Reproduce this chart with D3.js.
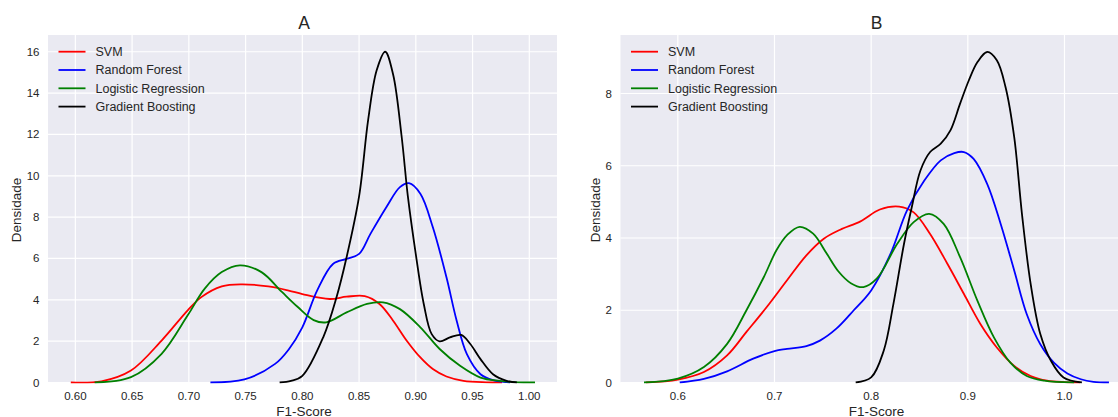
<!DOCTYPE html>
<html><head><meta charset="utf-8">
<script src="https://cdn.jsdelivr.net/npm/d3@7"></script>
<style>
body{margin:0;background:#fff;overflow:hidden}
text{font-family:"Liberation Sans",Arial,sans-serif;fill:#262626}
</style>
</head><body><svg id="c" width="1118" height="417"></svg>
<script>
// ---- data ----
const models = ["SVM", "Random Forest", "Logistic Regression", "Gradient Boosting"];
const colors = ["#ff0000", "#0000ff", "#008000", "#000000"];
const panelTitles = ["A", "B"];
const xTicksA = [0.60, 0.65, 0.70, 0.75, 0.80, 0.85, 0.90, 0.95, 1.00];
const yTicksA = [0, 2, 4, 6, 8, 10, 12, 14, 16];
const xTicksB = [0.6, 0.7, 0.8, 0.9, 1.0];
const yTicksB = [0, 2, 4, 6, 8];
const xLabel = "F1-Score";
const yLabel = "Densidade";

// Panel A densities [F1, density]
const svmA = [[0.596,0],[0.623,0.06],[0.649,0.58],[0.676,2.03],[0.699,3.49],[0.711,4.13],[0.729,4.65],[0.746,4.75],[0.770,4.65],[0.788,4.45],[0.800,4.28],[0.824,4.04],[0.839,4.15],[0.855,4.18],[0.868,3.80],[0.880,2.99],[0.892,2.02],[0.904,1.21],[0.915,0.65],[0.927,0.29],[0.942,0.08],[0.962,0.01],[0.976,0]];
const rfA = [[0.719,0],[0.749,0.15],[0.776,0.9],[0.788,1.6],[0.800,2.67],[0.813,4.44],[0.827,5.73],[0.839,5.98],[0.850,6.22],[0.860,7.19],[0.874,8.48],[0.886,9.45],[0.894,9.64],[0.904,9.13],[0.915,7.51],[0.927,5.09],[0.936,2.99],[0.945,1.37],[0.957,0.4],[0.968,0.11],[0.980,0.02],[0.983,0]];
const lrA = [[0.617,0],[0.649,0.26],[0.676,1.39],[0.699,3.25],[0.714,4.54],[0.729,5.34],[0.745,5.67],[0.764,5.34],[0.782,4.38],[0.796,3.65],[0.810,3.02],[0.821,2.91],[0.839,3.39],[0.857,3.80],[0.871,3.88],[0.886,3.55],[0.904,2.67],[0.921,1.62],[0.939,0.81],[0.957,0.24],[0.974,0.08],[0.990,0.01],[1.005,0]];
const gbA = [[0.780,0],[0.790,0.08],[0.800,0.32],[0.8185,2.2],[0.830,4.1],[0.839,6.06],[0.850,9.0],[0.858,12.7],[0.8655,15.1],[0.873,16.0],[0.880,14.9],[0.8875,11.9],[0.893,9.0],[0.900,6.2],[0.907,3.8],[0.914,2.34],[0.921,1.99],[0.930,2.18],[0.940,2.3],[0.948,1.86],[0.957,1.13],[0.968,0.4],[0.980,0.08],[0.989,0]];

// Panel B densities
const svmB = [[0.567,0],[0.600,0.08],[0.627,0.29],[0.651,0.75],[0.671,1.40],[0.692,2.09],[0.713,2.83],[0.733,3.52],[0.751,3.98],[0.768,4.23],[0.789,4.46],[0.809,4.79],[0.829,4.87],[0.844,4.71],[0.861,4.11],[0.879,3.28],[0.896,2.45],[0.913,1.62],[0.930,0.97],[0.948,0.46],[0.965,0.18],[0.982,0.05],[1.000,0.01],[1.016,0]];
const rfB = [[0.602,0],[0.627,0.10],[0.651,0.31],[0.678,0.66],[0.700,0.87],[0.713,0.93],[0.733,1.01],[0.747,1.16],[0.764,1.49],[0.782,2.0],[0.800,2.55],[0.820,3.56],[0.837,4.76],[0.855,5.59],[0.872,6.15],[0.886,6.35],[0.896,6.38],[0.906,6.19],[0.920,5.50],[0.934,4.39],[0.948,3.10],[0.961,1.89],[0.975,1.06],[0.989,0.55],[1.003,0.25],[1.017,0.09],[1.030,0.02],[1.046,0]];
const lrB = [[0.565,0],[0.600,0.11],[0.627,0.43],[0.651,1.07],[0.671,2.0],[0.689,2.92],[0.702,3.66],[0.713,4.08],[0.726,4.31],[0.740,4.12],[0.754,3.57],[0.766,3.08],[0.779,2.75],[0.792,2.64],[0.806,2.88],[0.827,3.84],[0.844,4.44],[0.860,4.67],[0.875,4.39],[0.892,3.47],[0.910,2.26],[0.927,1.25],[0.944,0.55],[0.961,0.18],[0.979,0.05],[1.010,0]];
const gbB = [[0.784,0],[0.800,0.14],[0.813,0.88],[0.823,2.17],[0.834,3.84],[0.842,4.85],[0.851,5.87],[0.861,6.38],[0.872,6.61],[0.882,6.98],[0.892,7.72],[0.901,8.36],[0.910,8.87],[0.920,9.15],[0.930,8.92],[0.939,8.18],[0.948,6.79],[0.956,4.67],[0.965,2.73],[0.975,1.34],[0.986,0.6],[0.999,0.14],[1.018,0]];

const seriesA = [svmA, rfA, lrA, gbA];
const seriesB = [svmB, rfB, lrB, gbB];

// ---- layout ----
const svg = d3.select("#c");
const panels = [
  {title: panelTitles[0], series: seriesA, xTicks: xTicksA, yTicks: yTicksA, fmt: d3.format(".2f"),
   left: 48, right: 557, xDom: [0.5759, 1.0244], yTop: 16.81, labX: 16.5, xlabX: 304, titleX: 304},
  {title: panelTitles[1], series: seriesB, xTicks: xTicksB, yTicks: yTicksB, fmt: d3.format(".1f"),
   left: 620.5, right: 1133.5, xDom: [0.5407, 1.0714], yTop: 9.62, labX: 595.5, xlabX: 876.5, titleX: 876.5}
];
const plotTop = 35, plotBottom = 382.5;

panels.forEach((p, i) => {
  const x = d3.scaleLinear().domain(p.xDom).range([p.left, p.right]);
  const y = d3.scaleLinear().domain([0, p.yTop]).range([plotBottom, plotTop]);
  const g = svg.append("g");
  const cid = "clip" + i;
  svg.append("clipPath").attr("id", cid).append("rect")
    .attr("x", p.left).attr("y", plotTop).attr("width", p.right - p.left).attr("height", plotBottom - plotTop + 1);
  g.append("rect").attr("x", p.left).attr("y", plotTop).attr("width", p.right - p.left)
    .attr("height", plotBottom - plotTop).attr("fill", "#eaeaf2");
  // grid
  g.selectAll(".gx").data(p.xTicks).enter().append("line")
    .attr("x1", d => x(d)).attr("x2", d => x(d)).attr("y1", plotTop).attr("y2", plotBottom)
    .attr("stroke", "#fff").attr("stroke-width", 1.2);
  g.selectAll(".gy").data(p.yTicks).enter().append("line")
    .attr("y1", d => y(d)).attr("y2", d => y(d)).attr("x1", p.left).attr("x2", p.right)
    .attr("stroke", "#fff").attr("stroke-width", 1.2);
  // tick labels
  g.selectAll(".tx").data(p.xTicks).enter().append("text")
    .attr("x", d => x(d)).attr("y", 399.5).attr("text-anchor", "middle")
    .attr("font-size", "11.5px").text(d => p.fmt(d));
  g.selectAll(".ty").data(p.yTicks).enter().append("text")
    .attr("x", p.left - 8.5).attr("y", d => y(d) + 4).attr("text-anchor", "end")
    .attr("font-size", "11.5px").text(d => d);
  // axis labels
  g.append("text").attr("x", p.xlabX).attr("y", 415.5)
    .attr("text-anchor", "middle").attr("font-size", "13.5px").text(xLabel);
  g.append("text").attr("transform", `translate(${p.labX + 4.5},210) rotate(-90)`)
    .attr("text-anchor", "middle").attr("font-size", "13.5px").text(yLabel);
  // title
  g.append("text").attr("x", p.titleX).attr("y", 29.3)
    .attr("text-anchor", "middle").attr("font-size", "17.5px").text(p.title);
  // curves
  const line = d3.line().x(d => x(d[0])).y(d => y(Math.max(0, d[1]))).curve(d3.curveCatmullRom.alpha(0.5));
  const cg = g.append("g").attr("clip-path", `url(#${cid})`);
  p.series.forEach((s, k) => {
    cg.append("path").attr("d", line(s)).attr("fill", "none")
      .attr("stroke", colors[k]).attr("stroke-width", 1.8).attr("stroke-linejoin", "round");
  });
  // legend
  const lx = p.left + 10.5;
  models.forEach((m, k) => {
    const ly = 51.7 + k * 18.3;
    g.append("line").attr("x1", lx).attr("x2", lx + 27).attr("y1", ly).attr("y2", ly)
      .attr("stroke", colors[k]).attr("stroke-width", 1.8);
    g.append("text").attr("x", lx + 37).attr("y", ly + 4.3).attr("font-size", "12.5px").text(m);
  });
});
</script>
</body></html>
